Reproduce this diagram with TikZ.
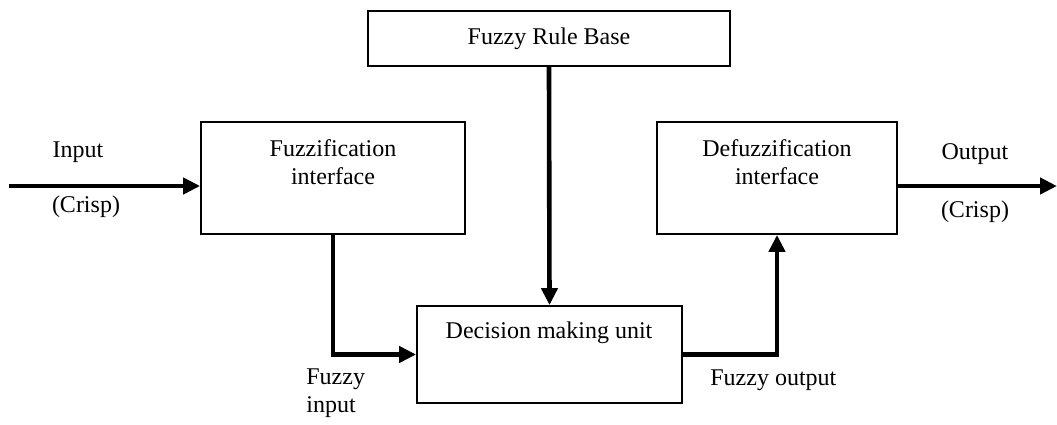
\documentclass[tikz,border=0pt]{standalone}
\usepackage{fontspec}
\setmainfont{Liberation Serif}
\usetikzlibrary{arrows.meta, positioning}

\begin{document}
\begin{tikzpicture}[x=0.5pt, y=-0.5pt, font=\fontsize{12}{14}\selectfont,
    block/.style={draw, line width=0.9pt, rectangle, inner sep=0pt},
    flow/.style={line width=2.3pt, -{Triangle[length=8.5pt, width=8pt]}},
    txt/.style={inner sep=0pt, align=center}]
      \useasboundingbox (0,0) rectangle (1057,424);

      \node[block, minimum width=181pt, minimum height=27.5pt] (RB) at (549,38.5) {};
      \node[block, minimum width=132pt, minimum height=56pt] (FI) at (333,178) {};
      \node[block, minimum width=120pt, minimum height=56pt] (DI) at (777,178) {};
      \node[block, minimum width=132.5pt, minimum height=48.5pt] (DM) at (549.5,354.5) {};

      \node[txt] (RBt) at (RB) {Fuzzy Rule Base};
      \node[txt] (FIt) at (333,162) {Fuzzification\\interface};
      \node[txt] (DIt) at (777,162) {Defuzzification\\interface};
      \node[txt] (DMt) at (549,333) {Decision making unit};

      \coordinate (IN) at (9,186);
      \coordinate (OUT) at (1057,186);

      \draw[flow] (IN) -- (IN -| FI.west);
      \draw[flow] (OUT -| DI.east) -- (OUT);
      \draw[flow] (RB.south) -- (DM.north);
      \draw[flow] (FI.south) |- (DM.west);
      \draw[flow] (DM.east) -| (DI.south);

      \node[txt] (INa) at (78,152) {Input};
      \node[txt] (INb) at (86,207) {(Crisp)};
      \node[txt] (OUTa) at (975,154) {Output};
      \node[txt] (OUTb) at (975,212) {(Crisp)};
      \node[txt, align=left, anchor=west] (FIN) at (306,393) {Fuzzy\\input};
      \node[txt, anchor=west] (FOUT) at (710,380) {Fuzzy output};
\end{tikzpicture}
\end{document}
